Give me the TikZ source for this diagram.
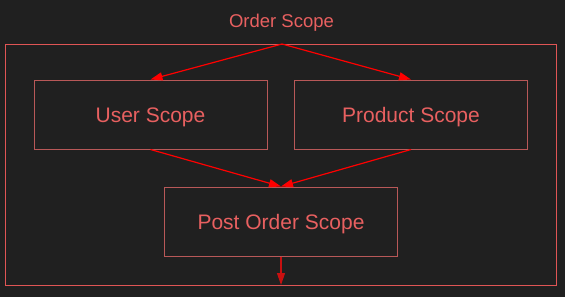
\documentclass[tikz,border=0pt]{standalone}
\usepackage{fontspec}
\setmainfont{Liberation Sans}
\usetikzlibrary{arrows.meta}

\definecolor{bgGrey}{HTML}{202020}
\definecolor{frameRed}{HTML}{E05555}
\definecolor{boxRed}{HTML}{B85858}
\definecolor{textRed}{HTML}{E86060}
\definecolor{linkRed}{HTML}{FF0000}
\definecolor{downRed}{HTML}{C81010}

\tikzset{
	scopebox/.style = {draw=boxRed, line width=1pt, minimum width=233pt, minimum height=69pt,
		text=textRed, font=\fontsize{21}{24}\selectfont, inner sep=0pt,
		text height=15.5pt, text depth=0.5pt},
	link/.style = {draw=linkRed, line width=1.2pt, -{Triangle[length=12pt,width=8pt]}}
}

\begin{document}
\begin{tikzpicture} [x=1pt, y=-1pt]

	% background and page size

	\fill[bgGrey] (0,0) rectangle (565,297);
	\useasboundingbox (0,0) rectangle (565,297);

	%outer scope

	\draw[frameRed, line width=1pt] (5,44) rectangle (556,285);
	\node[text=textRed, font=\fontsize{18.5}{21}\selectfont] (orderLabel) at (281.5,22.5) {Order Scope};
	\coordinate (orderTop) at (282,44);
	\coordinate (orderBottom) at (281,285);

	%inner scopes

	\node[scopebox] (user) at (150.5,114.5) {User Scope};
	\node[scopebox] (product) at (411,114.5) {Product Scope};
	\node[scopebox] (post) at (281,221.5) {Post Order Scope};

% Draw links.

	\draw[link] (orderTop) -- (user.north);
	\draw[link] (orderTop) -- (product.north);

	\draw[link] (user.south) -- (post.north);
	\draw[link] (product.south) -- (post.north);

	\draw[link, draw=downRed, fill=downRed] (post.south) -- (orderBottom);

\end{tikzpicture}
\end{document}
